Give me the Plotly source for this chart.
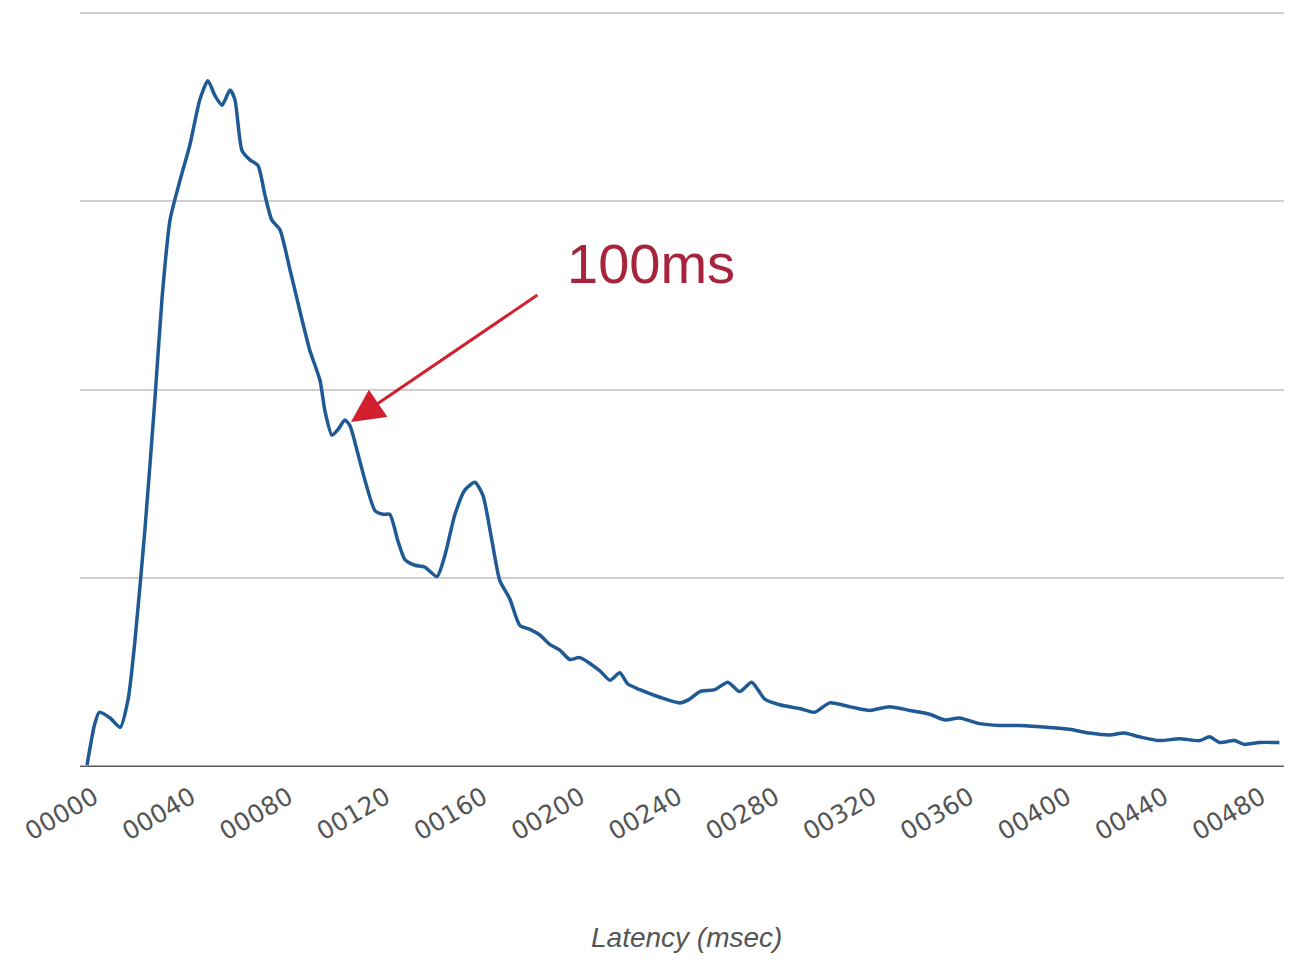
import plotly.graph_objects as go

# Latency (ms) and relative frequency (in gridline units)
latency_ms = [0, 3, 5, 9.5, 13.6, 16.9, 19.7, 23.8, 27.9, 30.8, 34.1, 38.2, 42.3, 46.4, 49.7,
              52.6, 55.5, 58.8, 60.8, 63.7, 67.0, 70.3, 73.2, 76.0, 79.3, 83.4, 87.5, 91.6,
              95.8, 97.8, 100.7, 103.2, 106.0, 108.1, 111.0, 114.3, 118.4, 121.7, 124.5,
              127.8, 130.7, 134.8, 138.9, 143.9, 147.1, 151.3, 155.4, 159.5, 162.8, 166.5,
              169.7, 173.9, 178.0, 182.1, 186.2, 190.3, 194.4, 198.5, 202.6, 210.9, 215.0,
              219.1, 222.4, 227.3, 235.5, 243.7, 247.8, 252.0, 258.1, 263.5, 268.4, 273.3,
              278.7, 284.8, 293.1, 299.2, 305.4, 313.6, 321.8, 330.0, 338.3, 346.5, 352.6,
              358.8, 367.0, 375.3, 383.5, 395.8, 404.0, 412.2, 420.5, 426.6, 432.8, 441.0,
              449.2, 457.5, 461.6, 465.7, 471.8, 475.9, 482.1, 490.3]
frequency = [0.01, 0.22, 0.29, 0.26, 0.21, 0.36, 0.67, 1.26, 1.95, 2.48, 2.90, 3.11, 3.30, 3.54,
             3.64, 3.56, 3.51, 3.59, 3.54, 3.27, 3.22, 3.19, 3.03, 2.90, 2.85, 2.64, 2.42, 2.21,
             2.05, 1.89, 1.76, 1.79, 1.84, 1.81, 1.68, 1.52, 1.36, 1.34, 1.34, 1.20, 1.10, 1.07,
             1.06, 1.01, 1.12, 1.34, 1.47, 1.51, 1.44, 1.20, 0.99, 0.89, 0.75, 0.73, 0.70, 0.65,
             0.62, 0.57, 0.58, 0.51, 0.46, 0.50, 0.44, 0.41, 0.37, 0.34, 0.36, 0.40, 0.41, 0.45,
             0.40, 0.45, 0.36, 0.33, 0.31, 0.29, 0.34, 0.32, 0.30, 0.32, 0.30, 0.28, 0.25, 0.26,
             0.23, 0.22, 0.22, 0.21, 0.20, 0.18, 0.17, 0.18, 0.16, 0.14, 0.15, 0.14, 0.16, 0.13,
             0.14, 0.12, 0.13, 0.13]

tick_values = [0, 40, 80, 120, 160, 200, 240, 280, 320, 360, 400, 440, 480]
tick_labels = ["00000", "00040", "00080", "00120", "00160", "00200", "00240", "00280",
               "00320", "00360", "00400", "00440", "00480"]

callout_x = 108.5
callout_y = 1.83
callout_text = "100ms"

fig = go.Figure()
fig.add_trace(go.Scatter(
    x=latency_ms, y=frequency, mode="lines",
    line=dict(color="#1f5a94", width=3.5, shape="spline", smoothing=0.6),
    showlegend=False, hoverinfo="skip",
))

fig.add_annotation(
    x=callout_x, y=callout_y, xref="x", yref="y", text="",
    showarrow=True, arrowhead=2, arrowsize=2.2, arrowwidth=3, arrowcolor="#d21f2e",
    ax=188, ay=-128, standoff=0,
)
fig.add_annotation(
    x=232, y=2.67, xref="x", yref="y", text=callout_text, showarrow=False,
    font=dict(family="Liberation Sans, Arial, sans-serif", size=56, color="#a8233c"),
    xanchor="center", yanchor="middle",
)
fig.add_annotation(
    x=0.5, y=-0.2245, xref="paper", yref="paper", text="<i>Latency (msec)</i>",
    showarrow=False, font=dict(family="Liberation Sans, Arial, sans-serif", size=28, color="#555555"),
    xanchor="center", yanchor="middle",
)

fig.update_layout(
    width=1284, height=953,
    margin=dict(l=72, r=0, t=1, b=194),
    paper_bgcolor="white", plot_bgcolor="white",
    xaxis=dict(
        range=[-2.9, 495.5], tickmode="array", tickvals=tick_values, ticktext=tick_labels,
        tickangle=-30, tickfont=dict(family="DejaVu Sans, sans-serif", size=25, color="#555555"),
        ticklabelstandoff=10, ticklabelshift=7,
        showgrid=False, zeroline=False, showline=False, ticks="", automargin=False,
    ),
    yaxis=dict(
        range=[0, 4.02], tickvals=[1, 2, 3, 4], showticklabels=False,
        showgrid=True, gridcolor="#cfcfcf", gridwidth=2, zeroline=False, showline=False,
        ticks="", automargin=False,
    ),
    shapes=[dict(type="line", xref="paper", yref="y", x0=0, x1=1, y0=0, y1=0,
                 line=dict(color="#5a5a5a", width=3))],
)

fig.write_html("out.html")
